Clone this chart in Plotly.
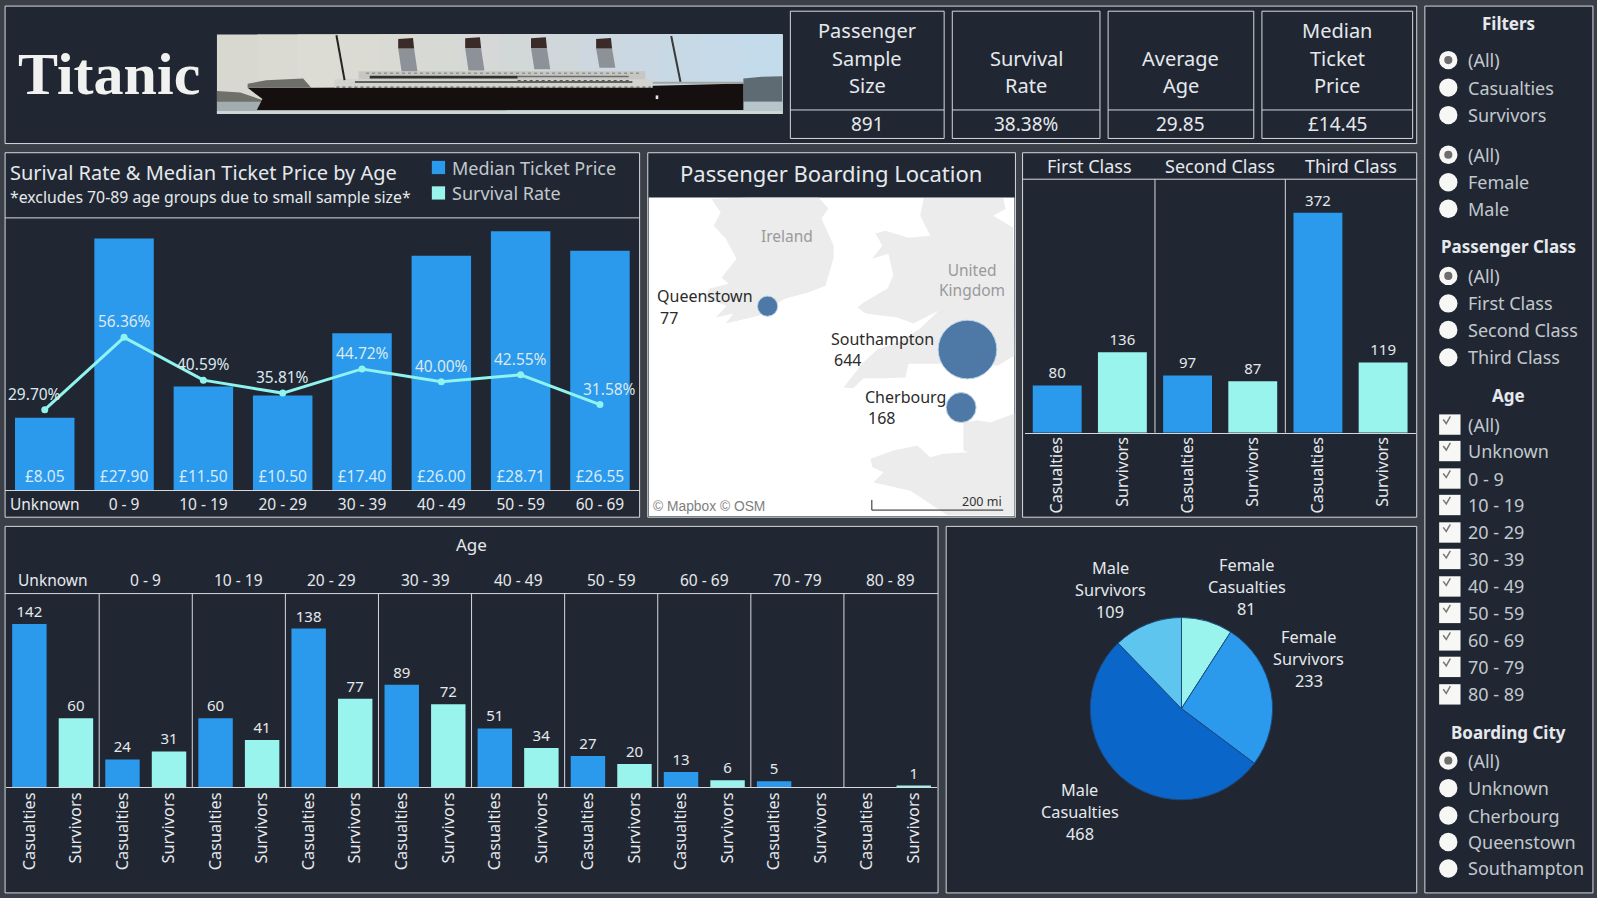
import plotly.graph_objects as go

# ---- data ----
age_groups = ["Unknown", "0 - 9", "10 - 19", "20 - 29", "30 - 39", "40 - 49", "50 - 59", "60 - 69"]
median_price = [8.05, 27.90, 11.50, 10.50, 17.40, 26.00, 28.71, 26.55]
survival_rate = [29.70, 56.36, 40.59, 35.81, 44.72, 40.00, 42.55, 31.58]

classes = ["First Class", "Second Class", "Third Class"]
class_casualties = [80, 97, 372]
class_survivors = [136, 87, 119]

all_ages = age_groups + ["70 - 79", "80 - 89"]
age_casualties = [142, 24, 60, 138, 89, 51, 27, 13, 5, None]
age_survivors = [60, 31, 41, 77, 72, 34, 20, 6, None, 1]

pie_labels = ["Female<br>Casualties", "Female<br>Survivors", "Male<br>Casualties", "Male<br>Survivors"]
pie_values = [81, 233, 468, 109]

cities = ["Queenstown", "Southampton", "Cherbourg"]
city_counts = [77, 644, 168]
city_lon = [-8.30, -1.40, -1.62]
city_lat = [51.85, 50.90, 49.63]

kpi_titles = ["Passenger<br>Sample<br>Size", "Survival<br>Rate", "Average<br>Age", "Median<br>Ticket<br>Price"]
kpi_values = ["891", "38.38%", "29.85", "£14.45"]

# coastlines for the base map
ireland_lon = [-10.23, -8.96, -6.54, -6.20, -6.44, -6.02, -6.02, -6.30, -6.89, -7.68, -7.99, -8.61, -9.75, -9.47,
               -10.09, -9.71, -10.44, -10.33, -9.64, -9.89, -9.37, -9.75, -10.16, -9.92]
ireland_lat = [54.20, 54.23, 54.23, 53.99, 53.77, 53.18, 52.91, 52.30, 52.15, 52.02, 51.91, 51.64, 51.47, 51.69,
               51.60, 51.86, 52.02, 52.23, 52.34, 52.48, 52.89, 53.33, 53.61, 53.90]
britain_lon = [-2.91, -3.03, -2.68, -3.44, -4.23, -4.58, -4.34, -4.69, -4.13, -3.96, -4.16, -4.99, -5.20, -4.92,
               -3.82, -3.27, -2.40, -3.03, -3.71, -4.51, -4.99, -5.68, -5.34, -4.99, -4.16, -3.54, -3.44, -2.34,
               -0.34, 0.22, 0.18, -0.51, -0.09, -0.16]
britain_lat = [54.22, 53.83, 53.39, 53.35, 53.50, 53.44, 53.18, 52.89, 53.00, 52.52, 52.24, 51.93, 51.82, 51.69,
               51.60, 51.47, 51.75, 51.36, 51.08, 50.90, 50.62, 50.07, 50.05, 50.27, 50.27, 50.29, 50.59, 50.59,
               50.55, 50.77, 53.57, 53.83, 53.98, 54.22]
france_lon = [0.22, -0.61, -1.06, -1.54, -1.54, -1.37, -2.23, -2.68, -3.13, -3.96, -4.75, -4.68, -4.30, -4.65,
              -3.37, -2.09, 0.22]
france_lat = [49.50, 49.30, 49.35, 49.30, 48.69, 48.65, 48.62, 48.54, 48.80, 48.69, 48.51, 48.32, 48.21, 47.99,
              47.81, 47.27, 47.27]

# ---- look ----
BG = "#3b3f48"
PANEL = "#202733"
EDGE = "#d5d9dd"
TEXT = "#e6e9ec"
MUTED = "#c3c8cd"
BLUE = "#2b99ec"
TEAL = "#9af4ee"
FONT = "Noto Sans"


# layout below is in pixels of a 1568x882 frame, scaled to paper
def X(t):
    return t / 1568


def Y(t):
    return 1 - t / 882


shapes = []
notes = []


def rect(x0, y0, x1, y1, fill=None, line=None, width=1, layer="below"):
    shapes.append(dict(type="rect", xref="paper", yref="paper", x0=X(x0), x1=X(x1), y0=Y(y0), y1=Y(y1),
                       fillcolor=fill, line=dict(color=line, width=width if line else 0), layer=layer))


def hline(x0, x1, y, color=EDGE, width=1, layer="below"):
    shapes.append(dict(type="line", xref="paper", yref="paper", x0=X(x0), x1=X(x1), y0=Y(y), y1=Y(y),
                       line=dict(color=color, width=width), layer=layer))


def label(x, y, text, size=16, color=TEXT, anchor="center", family=FONT, align="center"):
    notes.append(dict(xref="paper", yref="paper", x=X(x), y=Y(y), text=text, showarrow=False, xanchor=anchor,
                      yanchor="middle", align=align, font=dict(size=size, color=color, family=family)))


def stacked(x, y_last, text, gap, size):
    # multi line label, bottom line fixed
    rows = text.split("<br>")
    for k, row in enumerate(rows):
        label(x, y_last - gap * (len(rows) - 1 - k), row, size=size)


# panels
rect(5, 6, 1391, 141, PANEL, EDGE)
rect(5, 150, 628, 508, PANEL, EDGE)
rect(636, 150, 997, 508, PANEL, EDGE)
rect(1004, 150, 1391, 508, PANEL, EDGE)
rect(5, 517, 921, 877, PANEL, EDGE)
rect(929, 517, 1391, 877, PANEL, EDGE)
rect(1399, 6, 1564, 877, PANEL, EDGE)

# header
label(107, 73, "<b>Titanic</b>", size=60, color="#f1f1ef", family="Liberation Serif")


# ship picture, zoomed crop coordinates
def sx(x):
    return 213 + (x - 17) * 555 / 1528


def sy(y):
    return 34 + (y - 18) * 78 / 239


def ship_rect(x0, y0, x1, y1, fill):
    rect(sx(x0), sy(y0), sx(x1), sy(y1), fill)


def ship_poly(points, fill):
    shapes.append(dict(type="path", xref="paper", yref="paper", layer="below", fillcolor=fill, line=dict(width=0),
                       path="M" + " L".join(f"{X(sx(a))},{Y(sy(b))}" for a, b in points) + " Z"))


def ship_line(a, b, c, d, color, width=1, dash="solid"):
    shapes.append(dict(type="line", xref="paper", yref="paper", x0=X(sx(a)), x1=X(sx(c)), y0=Y(sy(b)), y1=Y(sy(d)),
                       line=dict(color=color, width=width, dash=dash), layer="below"))


sky = ["#d8d8d0", "#dadad2", "#dcdcd4", "#dbdbd4", "#d9dad4", "#d7d9d5", "#d5d8d6", "#d2d7d8", "#cfd7db", "#ccd7df",
       "#cad8e3", "#c8d9e6", "#c6dae9", "#c4dbec"]
for i, c in enumerate(sky):
    ship_rect(17 + i * 1528 / len(sky), 18, 1545, 257, c)
ship_poly([(17, 188), (80, 192), (140, 215), (140, 222), (17, 222)], "#70706a")
ship_poly([(1440, 150), (1490, 145), (1545, 143), (1545, 222), (1440, 222)], "#5f6b72")
ship_rect(17, 220, 1545, 257, "#a3adb0")
ship_rect(800, 220, 1545, 257, "#b5c5ca")
ship_rect(17, 248, 1545, 257, "#cfd6d8")
ship_poly([(100, 178), (280, 178), (1200, 172), (1440, 165), (1440, 245), (125, 245), (140, 212)], "#15100f")
ship_poly([(100, 166), (150, 155), (250, 150), (272, 178), (100, 178)], "#6f6f6a")
ship_rect(335, 152, 1195, 178, "#d2d2ce")
ship_rect(1195, 160, 1440, 166, "#a5a5a0")
ship_rect(400, 128, 1175, 152, "#c6c6c2")
ship_rect(390, 158, 1140, 163, "#3a3a3a")
ship_rect(430, 142, 830, 150, "#30302f")
ship_rect(830, 142, 1130, 146, "#6b6b6b")
ship_line(340, 176, 1190, 176, "#4a4a48", 1, "dot")
ship_line(830, 156, 1130, 156, "#55554f", 1, "dot")
ship_line(420, 134, 1160, 134, "#7a7a76", 1, "dot")
for a, ftop, fbot in [(507, 28, 128), (688, 26, 126), (866, 26, 122), (1042, 28, 118)]:
    ship_poly([(a, ftop + 32), (a + 43, ftop + 32), (a + 52, fbot), (a + 9, fbot)], "#8d9298")
    ship_poly([(a, ftop + 3), (a + 40, ftop), (a + 43, ftop + 32), (a, ftop + 32)], "#3a2b29")
ship_line(340, 20, 362, 155, "#26221f", 2)
ship_line(1245, 22, 1270, 160, "#3a3a38", 2)
ship_rect(1203, 201, 1210, 212, "#e5e5e5")

# KPI boxes
kpi_left = [776, 935, 1088, 1239]
kpi_right = [927, 1080, 1231, 1387]
for x0, x1, t, v in zip(kpi_left, kpi_right, kpi_titles, kpi_values):
    rect(x0, 11, x1, 136, None, EDGE)
    hline(x0, x1, 108)
    stacked((x0 + x1) / 2, 84, t, 27, 20)
    label((x0 + x1) / 2, 122, v, size=19)

# age/price panel head
hline(5, 628, 214)
label(8, 169, "Surival Rate &amp; Median Ticket Price by Age", size=20, anchor="left")
label(8, 193, "*excludes 70-89 age groups due to small sample size*", size=15.8, anchor="left")
rect(424, 158, 437, 171, BLUE)
rect(424, 183, 437, 196, TEAL)
label(442, 165, "Median Ticket Price", size=18, color=MUTED, anchor="left")
label(442, 190, "Survival Rate", size=18, color=MUTED, anchor="left")

# map panel
rect(637, 194, 996, 507, "#ffffff")
label(816, 170, "Passenger Boarding Location", size=22)
label(773, 232, "Ireland", size=15.5, color="#9a9a9a")
label(954, 275, "United<br>Kingdom", size=15.5, color="#9a9a9a")
city_label_at = {"Queenstown": (643, 291), "Southampton": (814, 333), "Cherbourg": (847, 390)}
for name, n in zip(cities, city_counts):
    lx, ly = city_label_at[name]
    label(lx, ly, name, size=16, color="#2b2b2b", anchor="left")
    label(lx + 3, ly + 21, str(n), size=16, color="#2b2b2b", anchor="left")
label(639, 497, "© Mapbox © OSM", size=13.8, color="#808080", anchor="left", family="Liberation Sans")
label(986, 493, "200 mi", size=12.5, color="#333333", anchor="right")
hline(856, 985, 501, color="#222222", layer="above")
shapes.append(dict(type="line", xref="paper", yref="paper", x0=X(856), x1=X(856), y0=Y(491), y1=Y(501),
                   line=dict(color="#222222", width=1), layer="above"))

# class and age panel furniture
hline(1004, 1391, 176)
hline(5, 921, 583)
label(463, 535, "Age", size=17)
for i in range(1, 3):
    shapes.append(dict(type="line", xref="x2", yref="paper", x0=2 * i - 0.5, x1=2 * i - 0.5, y0=Y(176), y1=Y(425),
                       line=dict(color=EDGE, width=1), layer="below"))
for i, c in enumerate(classes):
    notes.append(dict(xref="x2", yref="paper", x=2 * i + 0.5, y=Y(163.5), text=c, showarrow=False, yanchor="middle",
                      font=dict(size=18, color=TEXT, family=FONT)))
for i in range(1, len(all_ages)):
    shapes.append(dict(type="line", xref="x3", yref="paper", x0=2 * i - 0.5, x1=2 * i - 0.5, y0=Y(583), y1=Y(773),
                       line=dict(color=EDGE, width=1), layer="below"))
for i, a in enumerate(all_ages):
    notes.append(dict(xref="x3", yref="paper", x=2 * i + 0.5, y=Y(570), text=a, showarrow=False, yanchor="middle",
                      font=dict(size=15.5, color=TEXT, family=FONT)))

# pie labels
pie_label_at = [(1224, 598), (1285, 669), (1060, 819), (1090, 601)]
for (lx, ly), t, v in zip(pie_label_at, pie_labels, pie_values):
    stacked(lx, ly, f"{t}<br>{v}", 21.5, 16.3)


# filter column
def radio(y, text, selected=False):
    shapes.append(dict(type="circle", xref="paper", yref="paper", x0=X(1413), x1=X(1431), y0=Y(y - 9), y1=Y(y + 9),
                       fillcolor="#f7f7f5", line=dict(width=0), layer="below"))
    if selected:
        shapes.append(dict(type="circle", xref="paper", yref="paper", x0=X(1418), x1=X(1426), y0=Y(y - 4), y1=Y(y + 4),
                           fillcolor="#6e6e6e", line=dict(width=0), layer="below"))
    label(1439, y, text, size=18, color=MUTED, anchor="left")


def check(y, text):
    rect(1413, y - 10, 1434, y + 10, "#f7f7f5")
    shapes.append(dict(type="path", xref="paper", yref="paper", layer="below", line=dict(color="#777777", width=1.5),
                       path=f"M{X(1417)},{Y(y - 5)} L{X(1420)},{Y(y - 1)} L{X(1424)},{Y(y - 8)}"))
    label(1439, y, text, size=18, color=MUTED, anchor="left")


label(1481, 23, "<b>Filters</b>", size=17)
for y, t, on in [(59, "(All)", True), (86, "Casualties", False), (113, "Survivors", False),
                 (152, "(All)", True), (179, "Female", False), (205, "Male", False)]:
    radio(y, t, on)
label(1481, 242, "<b>Passenger Class</b>", size=17)
for y, t, on in [(271, "(All)", True), (298, "First Class", False), (324, "Second Class", False),
                 (351, "Third Class", False)]:
    radio(y, t, on)
label(1481, 388, "<b>Age</b>", size=17)
for y, t in zip([417, 443, 470, 496, 523, 549, 576, 602, 629, 655, 682], ["(All)"] + all_ages):
    check(y, t)
label(1481, 719, "<b>Boarding City</b>", size=17)
for y, t, on in [(747, "(All)", True), (774, "Unknown", False), (801, "Cherbourg", False),
                 (827, "Queenstown", False), (853, "Southampton", False)]:
    radio(y, t, on)

# ---- traces ----
fig = go.Figure()

fig.add_trace(go.Bar(x=age_groups, y=median_price, xaxis="x", yaxis="y", marker=dict(color=BLUE, line=dict(width=0)),
                     text=[f"£{v:.2f}" for v in median_price], textposition="inside", insidetextanchor="start",
                     textangle=0, insidetextfont=dict(size=15.5, color="#d5ebfa", family=FONT)))
fig.add_trace(go.Scatter(x=age_groups, y=survival_rate, xaxis="x", yaxis="y2", mode="lines+markers",
                         line=dict(color="#8ff3ee", width=3), marker=dict(color="#8ff3ee", size=7)))
label_xshift = [-10, 0, 0, 0, 0, 0, 0, 10]
for a, r, dx in zip(age_groups, survival_rate, label_xshift):
    notes.append(dict(xref="x", yref="y2", x=a, y=r, text=f"{r:.2f}%", showarrow=False, xshift=dx, yshift=16,
                      font=dict(size=15.5, color="#dce9ee", family=FONT)))

class_x = list(range(6))
fig.add_trace(go.Bar(x=class_x[0::2], y=class_casualties, xaxis="x2", yaxis="y3", width=0.75,
                     marker=dict(color=BLUE, line=dict(width=0)), text=class_casualties, textposition="outside",
                     textfont=dict(size=15, color=TEXT, family=FONT), cliponaxis=False))
fig.add_trace(go.Bar(x=class_x[1::2], y=class_survivors, xaxis="x2", yaxis="y3", width=0.75,
                     marker=dict(color=TEAL, line=dict(width=0)), text=class_survivors, textposition="outside",
                     textfont=dict(size=15, color=TEXT, family=FONT), cliponaxis=False))

age_x = list(range(2 * len(all_ages)))
fig.add_trace(go.Bar(x=age_x[0::2], y=age_casualties, xaxis="x3", yaxis="y4", width=0.74,
                     marker=dict(color=BLUE, line=dict(width=0)), text=age_casualties, textposition="outside",
                     textfont=dict(size=15, color=TEXT, family=FONT), cliponaxis=False))
fig.add_trace(go.Bar(x=age_x[1::2], y=age_survivors, xaxis="x3", yaxis="y4", width=0.74,
                     marker=dict(color=TEAL, line=dict(width=0)), text=age_survivors, textposition="outside",
                     textfont=dict(size=15, color=TEXT, family=FONT), cliponaxis=False))

for lon, lat in [(ireland_lon, ireland_lat), (britain_lon, britain_lat), (france_lon, france_lat)]:
    fig.add_trace(go.Scatter(x=lon, y=lat, xaxis="x4", yaxis="y5", mode="lines", fill="toself", fillcolor="#ececec",
                             line=dict(width=0), hoverinfo="skip"))
fig.add_trace(go.Scatter(x=city_lon, y=city_lat, xaxis="x4", yaxis="y5", mode="markers", text=cities,
                         marker=dict(size=city_counts, sizemode="area", sizeref=0.374, color="#4e79a7",
                                     line=dict(color="#bcd3e6", width=1), opacity=1)))

fig.add_trace(go.Pie(labels=[s.replace("<br>", " ") for s in pie_labels], values=pie_values, sort=False,
                     direction="clockwise", rotation=0, textinfo="none",
                     marker=dict(colors=[TEAL, BLUE, "#0a66c8", "#5ec5ee"], line=dict(color="#1d4a80", width=1)),
                     domain=dict(x=[X(1070.5), X(1249.5)], y=[Y(785.5), Y(606.5)])))


# ---- axes ----
def cat_axis(x0, x1, ticks=None, angle=0, size=15.5, **kw):
    ax = dict(domain=[X(x0), X(x1)], showgrid=False, zeroline=False, showline=True, linecolor=EDGE, linewidth=1,
              ticks="", tickangle=angle, tickfont=dict(size=size, color=TEXT, family=FONT), fixedrange=True, **kw)
    if ticks:
        ax.update(tickmode="array", tickvals=list(range(len(ticks))), ticktext=ticks)
    return ax


def val_axis(y0, y1, top, **kw):
    return dict(domain=[Y(y0), Y(y1)], range=[0, top], visible=False, fixedrange=True, **kw)


fig.update_layout(
    width=1597, height=898, margin=dict(l=0, r=0, t=0, b=0), paper_bgcolor=BG, plot_bgcolor="rgba(0,0,0,0)",
    showlegend=False, barmode="overlay", bargap=0.25, font=dict(family=FONT), shapes=shapes, annotations=notes,
    xaxis=cat_axis(5, 628, anchor="y", categoryorder="array", categoryarray=age_groups),
    yaxis=val_axis(481.5, 214, 30.2, anchor="x"),
    yaxis2=val_axis(481.5, 214, 100.4, anchor="x", overlaying="y"),
    xaxis2=cat_axis(1006, 1390, ["Casualties", "Survivors"] * 3, angle=-90, size=16, anchor="y3",
                    range=[-0.5, 5.5], ticklabelstandoff=-3),
    yaxis3=val_axis(425, 176, 429, anchor="x2"),
    xaxis3=cat_axis(6, 920, ["Casualties", "Survivors"] * len(all_ages), angle=-90, size=16.3, anchor="y4",
                    range=[-0.5, 19.5], ticklabelstandoff=-2),
    yaxis4=val_axis(773, 583, 168.5, anchor="x3"),
    xaxis4=dict(domain=[X(637), X(996)], range=[-12.4, 0.22], visible=False, anchor="y5", fixedrange=True),
    yaxis5=dict(domain=[Y(507), Y(194)], range=[47.25, 54.23], visible=False, anchor="x4", fixedrange=True),
)

fig.write_html("out.html", config=dict(displayModeBar=False),
               post_script="document.body.style.margin='0';document.body.style.overflow='hidden';")
